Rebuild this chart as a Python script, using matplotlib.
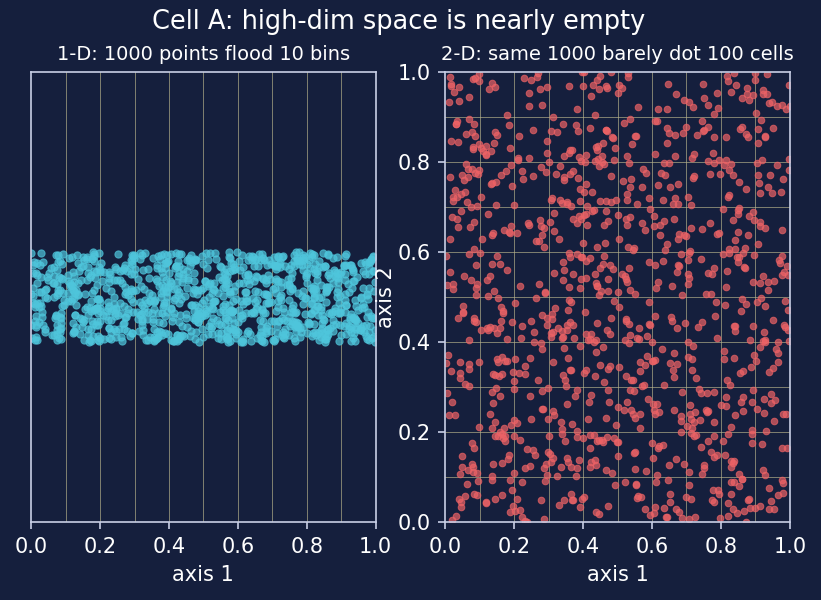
import matplotlib

matplotlib.use("Agg")

import matplotlib.pyplot as plt
import numpy as np


# The reference shows 1000 uniform samples; individual points can't be read off,
# so a fixed seed stands in for that sample.
N_POINTS = 1000
N_BINS = 10
SEED = 0

TITLE = "Cell A: high-dim space is nearly empty"
LEFT_TITLE = "1-D: 1000 points flood 10 bins"
RIGHT_TITLE = "2-D: same 1000 barely dot 100 cells"

BG = "#151f3d"
FG = "#ffffff"
SPINE = "#c8cfe6"
GRID = "#b4b08a"
CYAN = "#4fc6dc"
RED = "#ee6366"

rng = np.random.default_rng(SEED)
x1 = rng.uniform(0, 1, N_POINTS)
jitter = rng.uniform(-0.2, 0.2, N_POINTS)
x2 = rng.uniform(0, 1, N_POINTS)
y2 = rng.uniform(0, 1, N_POINTS)
edges = np.linspace(0, 1, N_BINS + 1)

plt.rcParams.update({
    "figure.facecolor": BG,
    "axes.facecolor": BG,
    "axes.edgecolor": SPINE,
    "text.color": FG,
    "axes.labelcolor": FG,
    "xtick.color": SPINE,
    "ytick.color": SPINE,
    "xtick.labelcolor": FG,
    "ytick.labelcolor": FG,
    "font.size": 10,
})

fig, (ax1, ax2) = plt.subplots(1, 2, figsize=(821 / 150, 600 / 150), dpi=150)
fig.subplots_adjust(left=0.038, right=0.962, bottom=0.13, top=0.88, wspace=0.203)

# 1-D panel: points along axis 1, jittered vertically
for e in edges[1:-1]:
    ax1.axvline(e, color=GRID, lw=0.45, alpha=0.7, zorder=1, snap=True)
ax1.scatter(x1, jitter, s=12, color=CYAN, alpha=0.7, linewidths=0.5, zorder=2)
ax1.set_xlim(0, 1)
ax1.set_ylim(-1, 1)
ax1.set_yticks([])
ax1.set_xlabel("axis 1")
ax1.set_title(LEFT_TITLE, fontsize=9.3)

# 2-D panel: same count spread over a 10x10 grid
for e in edges[1:-1]:
    ax2.axvline(e, color=GRID, lw=0.45, alpha=0.7, zorder=1, snap=True)
    ax2.axhline(e, color=GRID, lw=0.45, alpha=0.7, zorder=1, snap=True)
ax2.scatter(x2, y2, s=10, color=RED, alpha=0.7, linewidths=0.5, zorder=2)
ax2.set_xlim(0, 1)
ax2.set_ylim(0, 1)
ax2.set_xlabel("axis 1")
ax2.set_ylabel("axis 2", labelpad=1)
ax2.set_title(RIGHT_TITLE, fontsize=9.3)

fig.suptitle(TITLE, fontsize=12.3, x=0.485, y=0.985)

fig.savefig("out.png", dpi=150, facecolor=BG)
